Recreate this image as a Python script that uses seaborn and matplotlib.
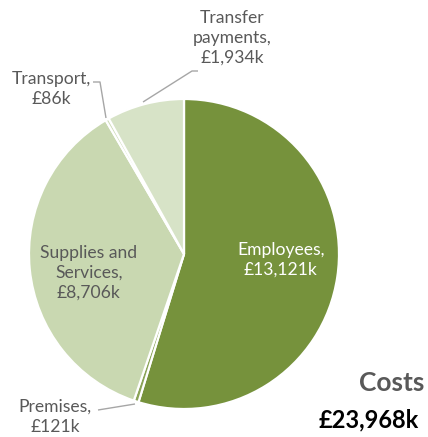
import matplotlib
matplotlib.use("Agg")
import matplotlib.pyplot as plt
import seaborn as sns
import pandas as pd

# Cost breakdown (in £ thousands)
categories = ["Employees", "Premises", "Supplies and\nServices", "Transport", "Transfer\npayments"]
values = [13121, 121, 8706, 86, 1934]
slice_colors = ["#76923C", "#8AA357", "#C9D8B1", "#D0DDBB", "#D7E3C7"]
total_title = "Costs"

df = pd.DataFrame({"category": categories, "value": values, "color": slice_colors})
total = df["value"].sum()

sns.set_theme(style="white")
plt.rcParams["font.family"] = ["Lato", "DejaVu Sans"]

W, H = 428, 437
fig = plt.figure(figsize=(W / 100, H / 100), dpi=100)
ax = fig.add_axes([0, 0, 1, 1])

cx, cy, r = 184, H - 254, 155
ax.pie(df["value"], colors=df["color"], startangle=90, counterclock=False,
       center=(cx, cy), radius=r, frame=True,
       wedgeprops=dict(edgecolor="white", linewidth=1.6))
ax.set_xlim(0, W)
ax.set_ylim(0, H)
ax.axis("off")

def fmt(v):
    return f"£{v:,}k"

gray = "#595959"
lab_fs = 12.6

def label(i, x, y, color=gray):
    ax.text(x, H - y, f"{df['category'][i]},\n{fmt(df['value'][i])}",
            ha="center", va="center", fontsize=lab_fs, color=color,
            linespacing=1.3)

label(0, 281, 260, color="white")
label(2, 89, 273)
label(4, 232, 38)
label(3, 51, 89)
label(1, 55, 417)

line_kw = dict(color="#A6A6A6", linewidth=1.0, solid_capstyle="butt")
# Leader lines
ax.plot([143, 192, 198], [H - 102, H - 71, H - 71], **line_kw)
ax.plot([93, 100, 106], [H - 82, H - 82, H - 118], **line_kw)
ax.plot([98, 135], [H - 410, H - 404], **line_kw)

ax.text(424, H - 383, total_title, ha="right", va="center", fontsize=19,
        fontweight="bold", color=gray)
ax.text(419, H - 420, fmt(total), ha="right", va="center", fontsize=17,
        fontweight="bold", color="black")

fig.savefig("out.png", dpi=100)
